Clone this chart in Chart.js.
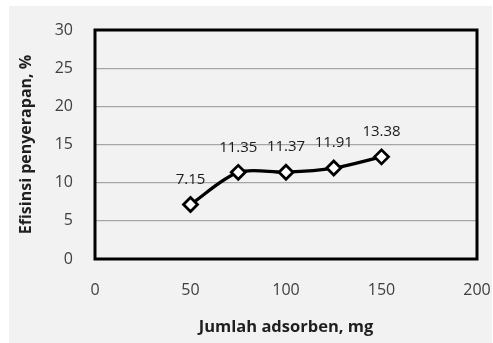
<!DOCTYPE html>
<html><head><meta charset="utf-8">
<script src="https://cdn.jsdelivr.net/npm/chart.js@4/dist/chart.umd.min.js"></script>
<style>
html,body{margin:0;padding:0;background:#fff;}
#wrap{position:absolute;left:9px;top:6px;width:483px;height:337px;background:#f2f2f2;}
canvas{display:block;}
</style></head><body>
<div id="wrap"><canvas id="c" width="483" height="337"></canvas></div>
<script>
const xValues = [50, 75, 100, 125, 150];
const yValues = [7.15, 11.35, 11.37, 11.91, 13.38];
const pointLabels = ['7.15', '11.35', '11.37', '11.91', '13.38'];
const xTitle = 'Jumlah adsorben, mg';
const yTitle = 'Efisinsi penyerapan, %';

const FONT = 'Open Sans, Lato, sans-serif';

const labelPlugin = {
  id: 'pointLabels',
  afterDatasetsDraw(chart) {
    const ctx = chart.ctx;
    const meta = chart.getDatasetMeta(0);
    ctx.save();
    ctx.font = '15px ' + FONT;
    ctx.fillStyle = '#1a1a1a';
    ctx.textAlign = 'center';
    ctx.textBaseline = 'middle';
    meta.data.forEach((pt, i) => {
      ctx.fillText(pointLabels[i], pt.x, pt.y - 25);
    });
    ctx.restore();
  }
};
const framePlugin = {
  id: 'frame',
  afterDatasetsDraw(chart) {
    const a = chart.chartArea, ctx = chart.ctx;
    ctx.save();
    ctx.strokeStyle = '#000';
    ctx.lineWidth = 3;
    ctx.strokeRect(a.left, a.top, a.right - a.left, a.bottom - a.top);
    ctx.restore();
  }
};
function zeroPad(s) { s.paddingTop = 0; s.paddingBottom = 0; s.paddingLeft = 0; s.paddingRight = 0; }

new Chart(document.getElementById('c'), {
  type: 'line',
  data: {
    datasets: [{
      data: xValues.map((x, i) => ({x: x, y: yValues[i]})),
      borderColor: '#000',
      borderWidth: 3.2,
      tension: 0.3,
      pointStyle: 'rectRot',
      pointRadius: 7,
      pointBackgroundColor: '#fff',
      pointBorderColor: '#000',
      pointBorderWidth: 2.8,
      clip: false
    }]
  },
  options: {
    responsive: false,
    animation: false,
    layout: {padding: {left: 0, top: 24, right: 15, bottom: 0}},
    plugins: {legend: {display: false}, tooltip: {enabled: false}},
    scales: {
      x: {
        type: 'linear', min: 0, max: 200,
        ticks: {stepSize: 50, padding: 22, color: '#404040', font: {family: FONT, size: 16}},
        grid: {display: false, drawTicks: false},
        border: {display: false},
        title: {display: true, text: xTitle, color: '#1f1f1f', padding: {top: 0, bottom: 6}, font: {family: FONT, size: 16.5, weight: 'bold'}},
        afterFit(s) { s.height = 84; zeroPad(s); }
      },
      y: {
        min: 0, max: 30,
        ticks: {stepSize: 5, padding: 22, color: '#404040', font: {family: FONT, size: 16}},
        grid: {color: '#a6a6a6', lineWidth: 1.2, drawTicks: false},
        border: {display: false},
        title: {display: true, text: yTitle, color: '#1f1f1f', padding: {top: 8, bottom: 0}, font: {family: FONT, size: 16, weight: 'bold'}},
        afterFit(s) { s.width = 86; zeroPad(s); }
      }
    }
  },
  plugins: [labelPlugin, framePlugin]
});
</script>
</body></html>
